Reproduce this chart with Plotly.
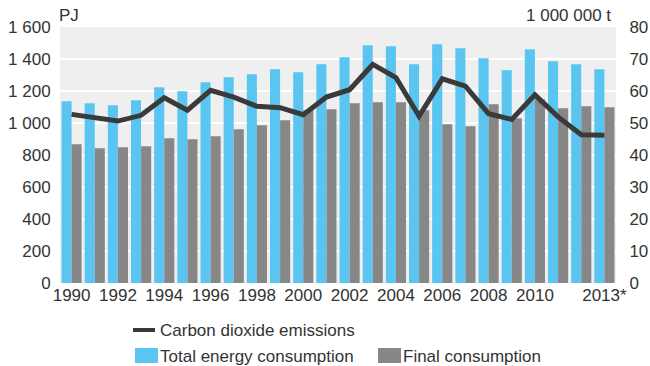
import plotly.graph_objects as go

# Energy consumption (PJ) and carbon dioxide emissions (million tonnes), 1990-2013
years = list(range(1990, 2014))
total_energy = [1136, 1123, 1111, 1142, 1223, 1198, 1254, 1286, 1304, 1336, 1317, 1367,
                1411, 1486, 1479, 1367, 1492, 1467, 1404, 1329, 1461, 1386, 1367, 1336]
final_consumption = [867, 842, 848, 854, 904, 898, 917, 961, 986, 1017, 1080, 1086,
                     1123, 1129, 1129, 1079, 992, 979, 1117, 1029, 1148, 1092, 1104, 1098]
co2_emissions = [52.7, 51.7, 50.6, 52.4, 57.9, 54.0, 60.2, 58.1, 55.2, 54.8, 52.6, 58.1,
                 60.4, 68.3, 64.2, 52.1, 63.8, 61.5, 52.9, 51.1, 58.8, 51.9, 46.3, 46.2]

tick_years = [1990, 1992, 1994, 1996, 1998, 2000, 2002, 2004, 2006, 2008, 2010, 2013]
tick_labels = ["1990", "1992", "1994", "1996", "1998", "2000", "2002", "2004",
               "2006", "2008", "2010", "2013*"]

BLUE = "#5bc5f2"
GREY = "#878787"
DARK = "#3a3a3a"
TEXT = "#333333"
FONT = "Liberation Sans, Arial, sans-serif"
FS = 17

W, H = 650, 366
ML, MR, MT, MB = 60, 34, 27, 83
PW, PH = W - ML - MR, H - MT - MB


def px(x):
    return (x - ML) / PW


def py(y):
    return (H - MB - y) / PH


fig = go.Figure()
fig.add_trace(go.Bar(x=years, y=total_energy, name="Total energy consumption",
                     marker=dict(color=BLUE, line=dict(width=0)), showlegend=False))
fig.add_trace(go.Bar(x=years, y=final_consumption, name="Final consumption",
                     marker=dict(color=GREY, line=dict(width=0)), showlegend=False))
fig.add_trace(go.Scatter(x=years, y=co2_emissions, name="Carbon dioxide emissions",
                         yaxis="y2", mode="lines",
                         line=dict(color=DARK, width=5, shape="linear"),
                         showlegend=False))

shapes = [
    # legend swatches
    dict(type="line", xref="paper", yref="paper", x0=px(133), x1=px(155),
         y0=py(330), y1=py(330), line=dict(color=DARK, width=4)),
    dict(type="rect", xref="paper", yref="paper", x0=px(135), x1=px(158),
         y0=py(348), y1=py(363), fillcolor=BLUE, line=dict(width=0)),
    dict(type="rect", xref="paper", yref="paper", x0=px(378), x1=px(401),
         y0=py(348), y1=py(363), fillcolor=GREY, line=dict(width=0)),
]


def label(text, x, y, anchor):
    return dict(text=text, xref="paper", yref="paper", x=px(x), y=py(y),
                xanchor=anchor, yanchor="middle", showarrow=False,
                font=dict(size=FS, color=TEXT, family=FONT))


annotations = [
    label("PJ", 57, 15, "left"),
    label("1 000 000 t", 613, 15, "right"),
    label("Carbon dioxide emissions", 158, 330, "left"),
    label("Total energy consumption", 158, 356, "left"),
    label("Final consumption", 401, 356, "left"),
]

fig.update_layout(
    width=W, height=H,
    margin=dict(l=ML, r=MR, t=MT, b=MB, pad=0, autoexpand=False),
    paper_bgcolor="white",
    plot_bgcolor="#efefef",
    separators=". ",
    font=dict(family=FONT, size=FS, color=TEXT),
    barmode="group",
    bargap=0.13,
    bargroupgap=0,
    xaxis=dict(range=[1989.5, 2013.5], tickmode="array", tickvals=tick_years,
               ticktext=tick_labels, showgrid=False, zeroline=False, showline=False,
               ticks="", ticklen=0, automargin=False, tickfont=dict(size=FS, color=TEXT)),
    yaxis=dict(range=[0, 1600], dtick=200, tickformat=",d", showgrid=True,
               gridcolor="white", gridwidth=2, zeroline=False, showline=False,
               ticks="outside", ticklen=5, tickcolor="rgba(0,0,0,0)", automargin=False,
               tickfont=dict(size=FS, color=TEXT)),
    yaxis2=dict(range=[0, 80], dtick=10, overlaying="y", side="right",
                showgrid=False, zeroline=False, showline=False,
                ticks="outside", ticklen=9, tickcolor="rgba(0,0,0,0)", automargin=False,
                tickfont=dict(size=FS, color=TEXT)),
    shapes=shapes,
    annotations=annotations,
    showlegend=False,
)

fig.write_html("out.html")
